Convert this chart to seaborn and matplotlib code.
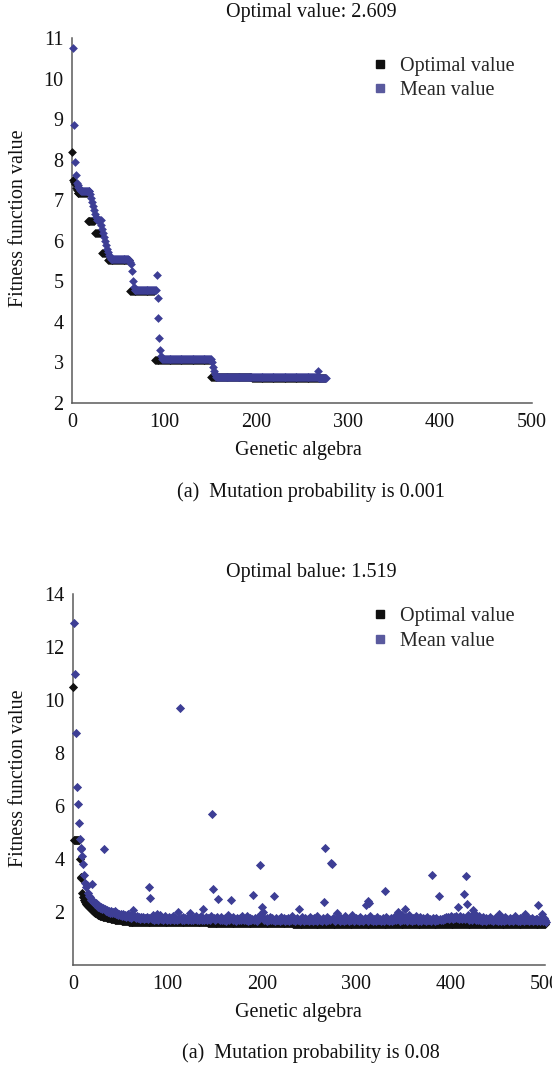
import numpy as np
import pandas as pd
import matplotlib
matplotlib.use("Agg")
import matplotlib.pyplot as plt
from matplotlib.lines import Line2D
import seaborn as sns

# ---------------- data: panel (a) mutation probability 0.001 ----------------
top_title = "Optimal value: 2.609"
top_caption = "(a)  Mutation probability is 0.001"
# optimal value per generation, as (level, number of generations)
opt_a_levels = [8.2, 7.5, 7.45, 7.4, 7.3, 7.25, 7.18, 6.5, 6.18, 5.7, 5.52, 4.76, 3.07, 2.64, 2.609]
opt_a_counts = [1, 1, 1, 1, 1, 1, 11, 8, 8, 6, 24, 27, 61, 45, 80]
# mean value per generation, as (level, number of generations)
mean_a_levels = [10.75, 8.85, 7.95, 7.62, 7.42, 7.38, 7.33, 7.30, 7.25, 7.22,
                 7.15, 7.05, 6.95, 6.85, 6.75, 6.65, 6.58, 6.52,
                 6.40, 6.30, 6.20, 6.10, 6.00, 5.90, 5.80, 5.72, 5.65, 5.60, 5.55,
                 5.52, 5.48, 5.42, 5.25, 5.00, 4.85, 4.78,
                 5.15, 4.60, 4.10, 3.60, 3.30, 3.15, 3.08,
                 3.00, 2.90, 2.80, 2.72, 2.68, 2.65, 2.63, 2.80, 2.62]
mean_a_counts = [1, 1, 1, 1, 1, 1, 1, 1, 1, 10,
                 1, 1, 1, 1, 1, 1, 1, 5,
                 1, 1, 1, 1, 1, 1, 1, 1, 1, 1, 20,
                 1, 1, 1, 1, 1, 1, 24,
                 1, 1, 1, 1, 1, 1, 54,
                 1, 1, 1, 1, 1, 45, 65, 1, 9]

# ---------------- data: panel (b) mutation probability 0.08 ----------------
bot_title = "Optimal balue: 1.519"
bot_caption = "(a)  Mutation probability is 0.08"
opt_b_early = [10.5, 4.72, 4.72, 4.72, 4.72, 4.72, 4.72, 4.0, 3.32, 3.28,
               2.72, 2.55, 2.45, 2.38, 2.32, 2.27, 2.22, 2.18, 2.14, 2.10,
               2.07, 2.04, 2.01, 1.98, 1.96, 1.94, 1.92, 1.90, 1.88, 1.86,
               1.85, 1.84, 1.83, 1.82, 1.81, 1.80, 1.79, 1.78, 1.77, 1.76,
               1.75, 1.74, 1.73, 1.73, 1.72, 1.71, 1.71, 1.70, 1.69, 1.69,
               1.68, 1.68, 1.67, 1.67, 1.66, 1.66, 1.65, 1.65, 1.65, 1.64,
               1.64, 1.64, 1.63, 1.63, 1.63, 1.62, 1.62, 1.62, 1.62, 1.61, 1.61]
opt_b_levels = [1.61, 1.58, 1.55]
opt_b_counts = [72, 90, 268]

mean_b_early = [12.9, 11.0, 8.75, 6.7, 6.07, 5.35, 4.75, 4.4, 4.38, 4.1,
                3.8, 3.4, 3.1, 2.95, 3.02, 2.7, 2.62, 2.55, 2.45, 3.05,
                2.4, 2.38, 2.3, 2.33, 2.25, 2.28, 2.2, 2.23, 2.15, 2.18,
                2.12, 2.15, 2.1, 2.1, 2.05, 2.08, 2.0, 2.04, 1.98, 2.02,
                1.96, 1.99, 1.95, 2.0, 2.05, 1.93, 1.96, 1.9, 1.94, 1.88, 1.92]
mean_b_band = [
    1.86, 1.91, 1.84, 1.89, 1.82, 1.87, 1.93, 1.80, 1.85, 1.78, 1.88, 1.83, 1.79, 1.86, 1.81, 1.76, 1.84, 1.78, 1.82, 1.75, 1.80, 1.77, 1.83, 1.74, 1.79,
    1.76, 1.81, 1.73, 1.78, 1.85, 1.72, 1.79, 1.75, 1.90, 1.71, 1.77, 1.74, 1.92, 1.70, 1.76, 1.88, 1.73, 1.79, 1.71, 1.75, 1.86, 1.72, 1.78, 1.70, 1.74,
    1.81, 1.69, 1.76, 1.72, 1.85, 1.70, 1.78, 1.73, 1.68, 1.90, 1.75, 1.71, 1.77, 1.69, 1.74, 1.82, 1.70, 1.76, 1.72, 1.79, 1.68, 1.73, 1.88, 1.71, 1.75,
    1.69, 1.78, 1.72, 1.84, 1.70, 1.75, 1.68, 1.79, 1.73, 1.86, 1.71, 1.76, 1.69, 1.74, 1.81, 1.70, 1.77, 1.72, 1.68, 1.85, 1.74, 1.71, 1.79, 1.69, 1.76,
    1.72, 1.80, 1.68, 1.75, 1.71, 1.83, 1.69, 1.74, 1.70, 1.78, 1.67, 1.73, 1.88, 1.70, 1.76, 1.68, 1.72, 1.81, 1.69, 1.75, 1.71, 1.67, 1.79, 1.73, 1.70,
    1.76, 1.68, 1.84, 1.72, 1.69, 1.75, 1.71, 1.86, 1.67, 1.74, 1.70, 1.78, 1.68, 1.73, 1.82, 1.69, 1.76, 1.71, 1.67, 1.80, 1.72, 1.69, 1.92, 1.74, 1.70,
    1.68, 1.75, 1.71, 1.79, 1.67, 1.73, 1.69, 1.83, 1.70, 1.76, 1.68, 1.72, 1.66, 1.78, 1.71, 1.69, 1.74, 1.67, 1.81, 1.70, 1.73, 1.68, 1.76, 1.66, 1.72,
    1.69, 1.77, 1.67, 1.73, 1.70, 1.85, 1.68, 1.74, 1.66, 1.71, 1.79, 1.69, 1.75, 1.67, 1.72, 1.68, 1.82, 1.70, 1.66, 1.76, 1.71, 1.68, 1.74, 1.67, 1.80,
    1.70, 1.73, 1.66, 1.78, 1.69, 1.72, 1.67, 1.84, 1.70, 1.75, 1.68, 1.71, 1.66, 1.77, 1.69, 1.73, 1.67, 1.80, 1.70, 1.74, 1.68, 1.66, 1.72, 1.79, 1.69,
    1.75, 1.67, 1.71, 1.68, 1.83, 1.70, 1.66, 1.76, 1.69, 1.72, 1.67, 1.85, 1.70, 1.74, 1.68, 1.66, 1.79, 1.71, 1.69, 1.88, 1.73, 1.67, 1.70, 1.76, 1.68,
    1.72, 1.66, 1.81, 1.69, 1.74, 1.67, 1.71, 1.78, 1.68, 1.73, 1.66, 1.76, 1.70, 1.84, 1.68, 1.72, 1.67, 1.75, 1.69, 1.66, 1.80, 1.71, 1.68, 1.74, 1.67,
    1.70, 1.77, 1.66, 1.72, 1.69, 1.83, 1.68, 1.74, 1.66, 1.71, 1.79, 1.67, 1.73, 1.69, 1.86, 1.68, 1.75, 1.70, 1.94, 1.67, 1.72, 1.90, 1.69, 1.76, 1.68,
    1.73, 1.80, 1.67, 1.71, 1.88, 1.69, 1.74, 1.66, 1.78, 1.70, 1.68, 1.85, 1.72, 1.67, 1.75, 1.69, 1.82, 1.66, 1.71, 1.77, 1.68, 1.73, 1.67, 1.80, 1.70,
    1.68, 1.74, 1.66, 1.71, 1.79, 1.69, 1.73, 1.67, 1.76, 1.70, 1.68, 1.83, 1.72, 1.69, 1.75, 1.71, 1.78, 1.73, 1.80, 1.76, 1.82, 1.74, 1.79, 1.85, 1.77,
    1.81, 1.75, 1.83, 1.78, 1.86, 1.76, 1.80, 1.74, 1.84, 1.79, 1.72, 1.82, 1.77, 1.75, 1.71, 1.78, 1.88, 1.73, 1.69, 1.76, 1.83, 1.70, 1.74, 1.95, 1.72,
    1.68, 1.78, 1.71, 1.86, 1.69, 1.74, 1.67, 1.80, 1.70, 1.73, 1.66, 1.77, 1.69, 1.72, 1.68, 1.82, 1.70, 1.75, 1.67, 1.71, 1.79, 1.68, 1.73, 1.66, 1.74,
    1.70, 1.67, 1.76, 1.69, 1.72, 1.66, 1.81, 1.68, 1.74, 1.70, 1.67, 1.78, 1.69, 1.73, 1.66, 1.71, 1.84, 1.68, 1.75, 1.67, 1.70, 1.77, 1.66, 1.72, 1.69,
    1.74, 1.67, 1.80, 1.70, 1.68, 1.76, 1.66, 1.73, 1.69, 1.79, 1.67, 1.71, 1.68, 1.75, 1.66, 1.72, 1.82, 1.69, 1.67, 1.74, 1.70, 1.66, 1.78, 1.68, 1.64,
]
# outlying mean values: generation -> value
spike_gens = [32, 63, 80, 81, 110, 112, 123, 137, 146, 147, 153, 166, 190, 197, 199, 200,
              212, 238, 265, 266, 272, 273, 279, 309, 312, 313, 329, 343, 351, 379, 387,
              407, 413, 415, 416, 423, 450, 478, 492, 496]
spike_vals = [4.37, 2.09, 2.95, 2.53, 2.0, 9.71, 1.98, 2.1, 5.68, 2.85, 2.49, 2.47, 2.65, 3.78, 2.2, 2.0,
              2.6, 2.1, 2.39, 4.41, 3.86, 3.82, 1.97, 2.26, 2.43, 2.35, 2.8, 1.99, 2.11, 3.41, 2.62,
              2.2, 2.68, 3.36, 2.31, 2.06, 1.91, 1.91, 2.25, 1.91]

x_ticks = [0, 100, 200, 300, 400, 500]
top_yticks = [2, 3, 4, 5, 6, 7, 8, 9, 10, 11]
bot_yticks = [2, 4, 6, 8, 10, 12, 14]
legend_labels = ["Optimal value", "Mean value"]
x_label = "Genetic algebra"
y_label = "Fitness function value"

# ---------------- build frames ----------------
opt_a = np.repeat(opt_a_levels, opt_a_counts)
mean_a = np.repeat(mean_a_levels, mean_a_counts)
df_a_opt = pd.DataFrame({"gen": np.arange(len(opt_a)), "val": opt_a})
df_a_mean = pd.DataFrame({"gen": np.arange(len(mean_a)) + 1, "val": mean_a})

opt_b = np.concatenate([opt_b_early, np.repeat(opt_b_levels, opt_b_counts)])
mean_b = np.array(mean_b_early + mean_b_band, dtype=float)
for g, v in zip(spike_gens, spike_vals):
    if g < len(mean_b):
        mean_b[g] = v
df_b_opt = pd.DataFrame({"gen": np.arange(len(opt_b)), "val": opt_b})
df_b_mean = pd.DataFrame({"gen": np.arange(len(mean_b)) + 1, "val": mean_b})

# ---------------- styling ----------------
sns.set_theme(style="white")
plt.rcParams["font.family"] = ["Liberation Serif", "DejaVu Serif"]
FS = 14.5
BLACK = "#101010"
BLUE = "#3d3e95"
LEG_BLUE = "#5a5a9e"
SPINE = "#5a5a5a"

W, H = 552, 1067
fig = plt.figure(figsize=(W / 100, H / 100), dpi=100)


def px_rect(l, t, r, b):
    return [l / W, 1 - b / H, (r - l) / W, (b - t) / H]


def style_axes(ax, yticks, ylim):
    ax.set_xlim(0, 500)
    ax.set_ylim(*ylim)
    ax.set_xticks(x_ticks)
    ax.set_yticks(yticks)
    ax.set_xlabel("")
    ax.set_ylabel("")
    for s in ["top", "right"]:
        ax.spines[s].set_visible(False)
    for s in ["left", "bottom"]:
        ax.spines[s].set_color(SPINE)
        ax.spines[s].set_linewidth(1.1)
    ax.tick_params(direction="in", length=7, width=1.0, color=SPINE,
                   labelsize=FS, pad=6, labelcolor="#111111")
    ax.tick_params(axis="x", pad=7)


def draw(ax, d_opt, d_mean, s):
    sns.scatterplot(data=d_opt, x="gen", y="val", ax=ax, color=BLACK, marker="D",
                    s=s, linewidth=0, legend=False, zorder=3, clip_on=False)
    sns.scatterplot(data=d_mean, x="gen", y="val", ax=ax, color=BLUE, marker="D",
                    s=s, linewidth=0, legend=False, zorder=4, clip_on=False)
    handles = [Line2D([], [], marker="s", linestyle="", color=BLACK, markersize=6),
               Line2D([], [], marker="s", linestyle="", color=LEG_BLUE, markersize=6)]
    return handles


ax1 = fig.add_axes(px_rect(72, 38, 532, 403))
h = draw(ax1, df_a_opt, df_a_mean, 20)
style_axes(ax1, top_yticks, (2, 11))
ax1.legend(h, legend_labels, loc="upper left", bbox_to_anchor=(358 / W, 1 - 47 / H),
           bbox_transform=fig.transFigure, frameon=False, fontsize=FS,
           handletextpad=0.4, labelspacing=0.25, handlelength=1.2, borderpad=0)

ax2 = fig.add_axes(px_rect(73, 594, 545, 965))
h = draw(ax2, df_b_opt, df_b_mean, 22)
style_axes(ax2, bot_yticks, (0, 14))
ax2.legend(h, legend_labels, loc="upper left", bbox_to_anchor=(358 / W, 1 - 597 / H),
           bbox_transform=fig.transFigure, frameon=False, fontsize=FS,
           handletextpad=0.4, labelspacing=0.3, handlelength=1.2, borderpad=0)

def ftext(x, y, s, **kw):
    fig.text(x / W, 1 - y / H, s, ha="center", va="center", fontsize=FS,
             color="#111111", **kw)

ftext(311, 13, top_title)
ftext(298, 451, x_label)
ftext(311, 492, top_caption)
ftext(19, 218, y_label, rotation=90)

ftext(311, 573, bot_title)
ftext(298, 1012, x_label)
ftext(311, 1053, bot_caption)
ftext(19, 778, y_label, rotation=90)

fig.savefig("out.png", dpi=100, facecolor="white")
